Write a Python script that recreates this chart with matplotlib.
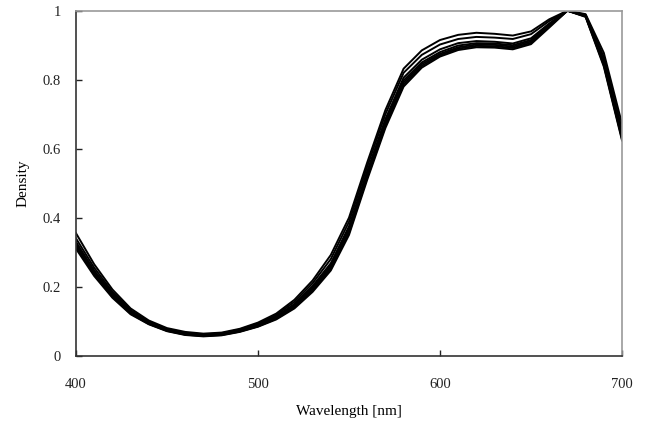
import matplotlib
matplotlib.use("Agg")
import matplotlib.pyplot as plt

wavelength = list(range(400, 701, 10))

c1 = [0.355,0.265,0.192,0.137,0.102,0.080,0.069,0.064,0.067,0.078,0.096,0.122,0.162,0.218,0.292,0.400,0.560,0.712,0.832,0.885,0.915,0.930,0.936,0.933,0.928,0.940,0.975,1.000,0.990,0.878,0.672]
c2 = [0.340,0.255,0.185,0.132,0.098,0.077,0.066,0.062,0.065,0.076,0.093,0.118,0.156,0.210,0.280,0.388,0.548,0.700,0.820,0.872,0.902,0.918,0.924,0.922,0.918,0.932,0.970,1.000,0.988,0.866,0.655]
c3 = [0.330,0.247,0.180,0.128,0.096,0.075,0.064,0.060,0.063,0.074,0.090,0.114,0.150,0.202,0.268,0.375,0.535,0.686,0.806,0.858,0.888,0.906,0.912,0.910,0.905,0.920,0.963,1.000,0.986,0.856,0.642]
c4 = [0.325,0.243,0.177,0.126,0.094,0.074,0.063,0.059,0.062,0.072,0.088,0.111,0.146,0.197,0.262,0.368,0.528,0.678,0.798,0.850,0.880,0.899,0.906,0.905,0.900,0.915,0.960,1.000,0.985,0.850,0.636]
c5 = [0.320,0.239,0.174,0.124,0.093,0.073,0.062,0.058,0.061,0.071,0.086,0.109,0.143,0.193,0.257,0.362,0.522,0.672,0.792,0.845,0.875,0.894,0.902,0.901,0.896,0.911,0.957,1.000,0.984,0.846,0.632]
c6 = [0.315,0.235,0.171,0.122,0.092,0.072,0.061,0.057,0.060,0.070,0.085,0.107,0.140,0.189,0.252,0.356,0.516,0.666,0.786,0.840,0.871,0.890,0.898,0.897,0.892,0.907,0.954,1.000,0.983,0.842,0.628]
c7 = [0.310,0.231,0.168,0.120,0.091,0.071,0.060,0.056,0.059,0.069,0.084,0.105,0.137,0.185,0.247,0.350,0.510,0.660,0.780,0.835,0.867,0.886,0.894,0.893,0.888,0.903,0.951,1.000,0.982,0.838,0.624]
curves = [c1, c2, c3, c4, c5, c6, c7]

x_ticks = [400, 500, 600, 700]
y_ticks = [0, 0.2, 0.4, 0.6, 0.8, 1]
y_tick_labels = ["0", "0.2", "0.4", "0.6", "0.8", "1"]

plt.rcParams['font.family'] = ['Liberation Serif', 'DejaVu Serif']

fig = plt.figure(figsize=(6.45, 4.23), dpi=100)
ax = fig.add_axes([76/645, 1 - 355.7/423, (622-76)/645, (355.7-10.7)/423])

for c in curves:
    ax.plot(wavelength, c, color='black', lw=1.4)

ax.set_xlim(400, 700)
ax.set_ylim(0, 1)
ax.set_xticks(x_ticks)
ax.set_xticklabels([str(t) for t in x_ticks])
ax.set_yticks(y_ticks)
ax.set_yticklabels(y_tick_labels)
ax.tick_params(direction='in', length=4, width=1, labelsize=10.5, colors='#222222')
ax.tick_params(axis='y', pad=11)
ax.tick_params(axis='x', pad=16)
for s in ['left', 'bottom']:
    ax.spines[s].set_color('#333333')
    ax.spines[s].set_linewidth(1.2)
for s in ['top', 'right']:
    ax.spines[s].set_color('#999999')
    ax.spines[s].set_linewidth(1.2)

ax.set_xlabel('Wavelength [nm]', fontsize=11, labelpad=10)
ax.set_ylabel('Density', fontsize=11, labelpad=9)

fig.savefig('out.png', dpi=100, facecolor='white')
